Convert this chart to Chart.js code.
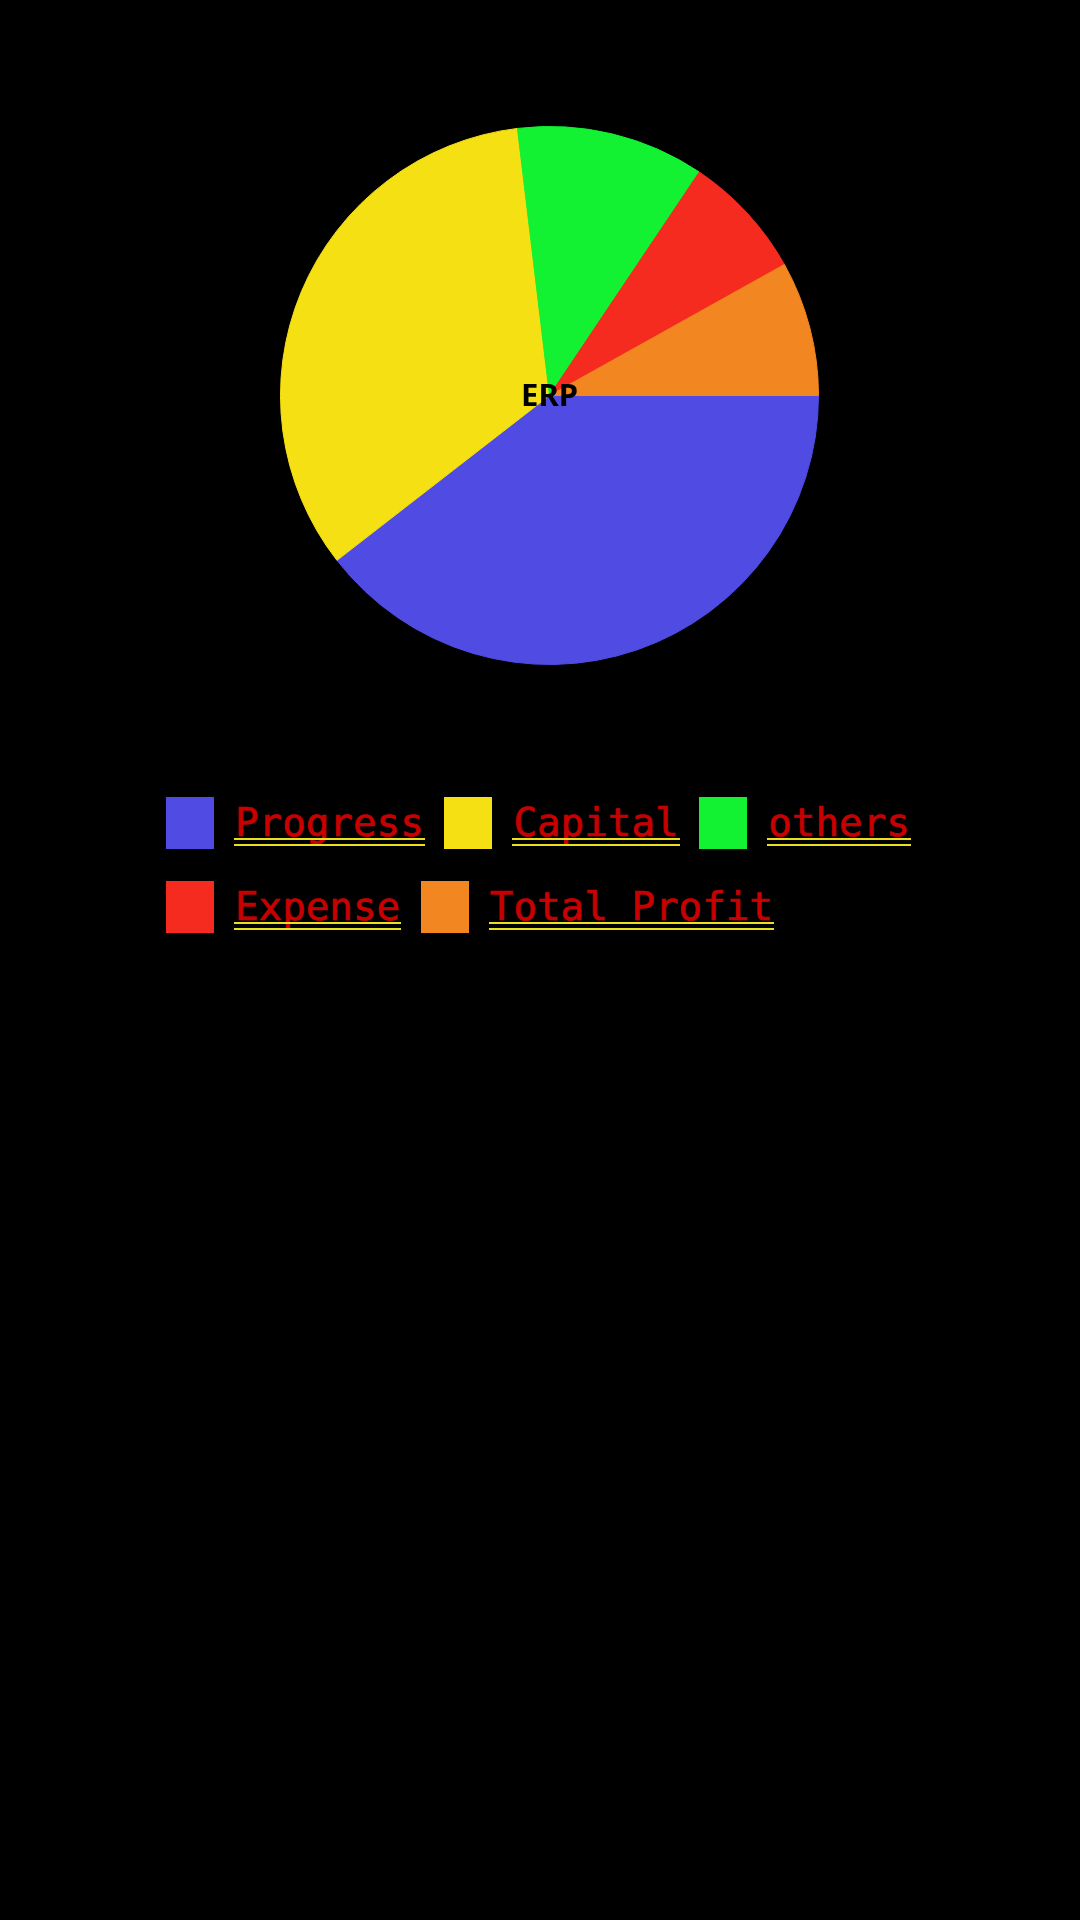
<!DOCTYPE html>
<html>
<head>
<meta charset="utf-8">
<script src="https://cdn.jsdelivr.net/npm/chart.js@4/dist/chart.umd.min.js"></script>
<style>
  html, body { margin: 0; padding: 0; background: #000; width: 1080px; height: 1920px; overflow: hidden; }
  #wrap { position: absolute; left: 280px; top: 126px; width: 539px; height: 539px; }
  #legend { position: absolute; left: 166px; top: 797px; width: 790px; display: flex; flex-wrap: wrap; row-gap: 32px; }
  .item { display: flex; align-items: center; margin-right: 20.7px; height: 52px; }
  .box { width: 48px; height: 52px; margin-right: 21px; flex: none; }
  .lbl { font-family: "DejaVu Sans Mono", monospace; font-size: 39.2px; color: #c80000;
         -webkit-text-stroke: 0.7px #c80000;
         line-height: 52px; position: relative; display: inline-block; }
  .lbl::after { content: ""; position: absolute; left: -1px; right: -1px; top: 41px; height: 4px;
                border-top: 2px solid #e8e01c; border-bottom: 2px solid #e8e01c; box-sizing: content-box; }
</style>
</head>
<body>
<div id="wrap"><canvas id="c"></canvas></div>
<div id="legend"></div>
<script>
const categories = ["Progress", "Capital", "others", "Expense", "Total Profit"];
const values = [39.5, 33.6, 11.3, 7.5, 8.1];
const colors = ["#504ce3", "#f5e013", "#12f232", "#f52b20", "#f28620"];
const centerLabel = "ERP";

const centerText = {
  id: "centerText",
  afterDatasetsDraw(chart) {
    const meta = chart.getDatasetMeta(0);
    if (!meta.data.length) return;
    const { x, y } = meta.data[0];
    const ctx = chart.ctx;
    ctx.save();
    ctx.font = "bold 31px 'Noto Sans', sans-serif";
    ctx.fillStyle = "#000";
    ctx.textAlign = "center";
    ctx.textBaseline = "middle";
    ctx.fillText(centerLabel, x, y + 2);
    ctx.restore();
  }
};

new Chart(document.getElementById("c"), {
  type: "pie",
  data: {
    labels: categories,
    datasets: [{
      data: values,
      backgroundColor: colors,
      borderColor: colors,
      borderWidth: 1
    }]
  },
  options: {
    responsive: true,
    maintainAspectRatio: false,
    animation: false,
    rotation: 90,
    layout: { padding: 0 },
    plugins: {
      legend: { display: false },
      tooltip: { enabled: false },
      title: { display: false }
    }
  },
  plugins: [centerText]
});

const legend = document.getElementById("legend");
categories.forEach((name, i) => {
  const item = document.createElement("div");
  item.className = "item";
  const box = document.createElement("span");
  box.className = "box";
  box.style.background = colors[i];
  const lbl = document.createElement("span");
  lbl.className = "lbl";
  lbl.textContent = name;
  item.appendChild(box);
  item.appendChild(lbl);
  legend.appendChild(item);
});
</script>
</body>
</html>
